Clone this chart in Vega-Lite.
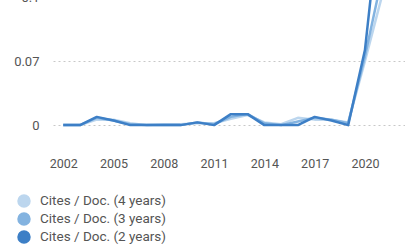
{
  "$schema": "https://vega.github.io/schema/vega-lite/v6.json",
  "autosize": {"type": "none"},
  "width": 352,
  "height": 151,
  "padding": {"left": 53, "top": -3, "right": 0, "bottom": 99},
  "background": "white",
  "config": {
    "view": {"stroke": null},
    "font": "Roboto",
    "axis": {"labelColor": "#555", "labelFontSize": 12.5, "domain": false, "ticks": false, "title": null}
  },
  "data": {"values": [
    {"year": 2002, "s": "Cites / Doc. (4 years)", "v": 0},
    {"year": 2003, "s": "Cites / Doc. (4 years)", "v": 0},
    {"year": 2004, "s": "Cites / Doc. (4 years)", "v": 0.006},
    {"year": 2005, "s": "Cites / Doc. (4 years)", "v": 0.006},
    {"year": 2006, "s": "Cites / Doc. (4 years)", "v": 0.002},
    {"year": 2007, "s": "Cites / Doc. (4 years)", "v": 0},
    {"year": 2008, "s": "Cites / Doc. (4 years)", "v": 0.001},
    {"year": 2009, "s": "Cites / Doc. (4 years)", "v": 0.001},
    {"year": 2010, "s": "Cites / Doc. (4 years)", "v": 0.002},
    {"year": 2011, "s": "Cites / Doc. (4 years)", "v": 0.002},
    {"year": 2012, "s": "Cites / Doc. (4 years)", "v": 0.007},
    {"year": 2013, "s": "Cites / Doc. (4 years)", "v": 0.011},
    {"year": 2014, "s": "Cites / Doc. (4 years)", "v": 0.003},
    {"year": 2015, "s": "Cites / Doc. (4 years)", "v": 0.001},
    {"year": 2016, "s": "Cites / Doc. (4 years)", "v": 0.008},
    {"year": 2017, "s": "Cites / Doc. (4 years)", "v": 0.006},
    {"year": 2018, "s": "Cites / Doc. (4 years)", "v": 0.006},
    {"year": 2019, "s": "Cites / Doc. (4 years)", "v": 0.003},
    {"year": 2020, "s": "Cites / Doc. (4 years)", "v": 0.07},
    {"year": 2021, "s": "Cites / Doc. (4 years)", "v": 0.14},
    {"year": 2002, "s": "Cites / Doc. (3 years)", "v": 0},
    {"year": 2003, "s": "Cites / Doc. (3 years)", "v": 0},
    {"year": 2004, "s": "Cites / Doc. (3 years)", "v": 0.008},
    {"year": 2005, "s": "Cites / Doc. (3 years)", "v": 0.005},
    {"year": 2006, "s": "Cites / Doc. (3 years)", "v": 0.001},
    {"year": 2007, "s": "Cites / Doc. (3 years)", "v": 0},
    {"year": 2008, "s": "Cites / Doc. (3 years)", "v": 0},
    {"year": 2009, "s": "Cites / Doc. (3 years)", "v": 0},
    {"year": 2010, "s": "Cites / Doc. (3 years)", "v": 0.003},
    {"year": 2011, "s": "Cites / Doc. (3 years)", "v": 0.001},
    {"year": 2012, "s": "Cites / Doc. (3 years)", "v": 0.009},
    {"year": 2013, "s": "Cites / Doc. (3 years)", "v": 0.012},
    {"year": 2014, "s": "Cites / Doc. (3 years)", "v": 0.002},
    {"year": 2015, "s": "Cites / Doc. (3 years)", "v": 0},
    {"year": 2016, "s": "Cites / Doc. (3 years)", "v": 0.004},
    {"year": 2017, "s": "Cites / Doc. (3 years)", "v": 0.008},
    {"year": 2018, "s": "Cites / Doc. (3 years)", "v": 0.006},
    {"year": 2019, "s": "Cites / Doc. (3 years)", "v": 0.002},
    {"year": 2020, "s": "Cites / Doc. (3 years)", "v": 0.075},
    {"year": 2021, "s": "Cites / Doc. (3 years)", "v": 0.16},
    {"year": 2002, "s": "Cites / Doc. (2 years)", "v": 0},
    {"year": 2003, "s": "Cites / Doc. (2 years)", "v": 0},
    {"year": 2004, "s": "Cites / Doc. (2 years)", "v": 0.009},
    {"year": 2005, "s": "Cites / Doc. (2 years)", "v": 0.005},
    {"year": 2006, "s": "Cites / Doc. (2 years)", "v": 0},
    {"year": 2007, "s": "Cites / Doc. (2 years)", "v": 0},
    {"year": 2008, "s": "Cites / Doc. (2 years)", "v": 0},
    {"year": 2009, "s": "Cites / Doc. (2 years)", "v": 0},
    {"year": 2010, "s": "Cites / Doc. (2 years)", "v": 0.003},
    {"year": 2011, "s": "Cites / Doc. (2 years)", "v": 0},
    {"year": 2012, "s": "Cites / Doc. (2 years)", "v": 0.012},
    {"year": 2013, "s": "Cites / Doc. (2 years)", "v": 0.012},
    {"year": 2014, "s": "Cites / Doc. (2 years)", "v": 0},
    {"year": 2015, "s": "Cites / Doc. (2 years)", "v": 0},
    {"year": 2016, "s": "Cites / Doc. (2 years)", "v": 0},
    {"year": 2017, "s": "Cites / Doc. (2 years)", "v": 0.009},
    {"year": 2018, "s": "Cites / Doc. (2 years)", "v": 0.005},
    {"year": 2019, "s": "Cites / Doc. (2 years)", "v": 0},
    {"year": 2020, "s": "Cites / Doc. (2 years)", "v": 0.082},
    {"year": 2021, "s": "Cites / Doc. (2 years)", "v": 0.25}
  ]},
  "mark": {"type": "line", "clip": true, "strokeJoin": "round"},
  "encoding": {
    "x": {"field": "year", "type": "quantitative",
      "scale": {"domain": [2001.39, 2022.39], "nice": false, "zero": false},
      "axis": {"values": [2002, 2005, 2008, 2011, 2014, 2017, 2020], "format": "d", "grid": false, "labelPadding": 9, "labelFlush": false}},
    "y": {"field": "v", "type": "quantitative",
      "scale": {"domain": [-0.025, 0.14], "nice": false, "zero": false},
      "axis": {"values": [0, 0.07, 0.14], "format": "~g", "grid": true, "gridColor": "#c8c8c8", "gridDash": [2, 3], "labelPadding": 14, "labelFontSize": 13}},
    "color": {"field": "s", "type": "nominal",
      "scale": {"domain": ["Cites / Doc. (4 years)", "Cites / Doc. (3 years)", "Cites / Doc. (2 years)"], "range": ["#bcd6ee", "#83b3e0", "#3d7fc6"]},
      "legend": {"title": null, "orient": "none", "legendX": -36, "legendY": 197, "symbolType": "circle", "symbolSize": 120, "symbolStrokeWidth": 0, "symbolOpacity": 1, "labelFontSize": 13.5, "labelColor": "#555", "labelOffset": 9, "rowPadding": -4, "padding": 0,
        "encode": {"symbols": {"update": {"fill": {"scale": "color", "field": "value"}, "stroke": {"value": "transparent"}, "strokeWidth": {"value": 0}}}}}},
    "strokeWidth": {"field": "s", "type": "nominal",
      "scale": {"domain": ["Cites / Doc. (4 years)", "Cites / Doc. (3 years)", "Cites / Doc. (2 years)"], "range": [2.5, 2.5, 3]},
      "legend": null}
  }
}
